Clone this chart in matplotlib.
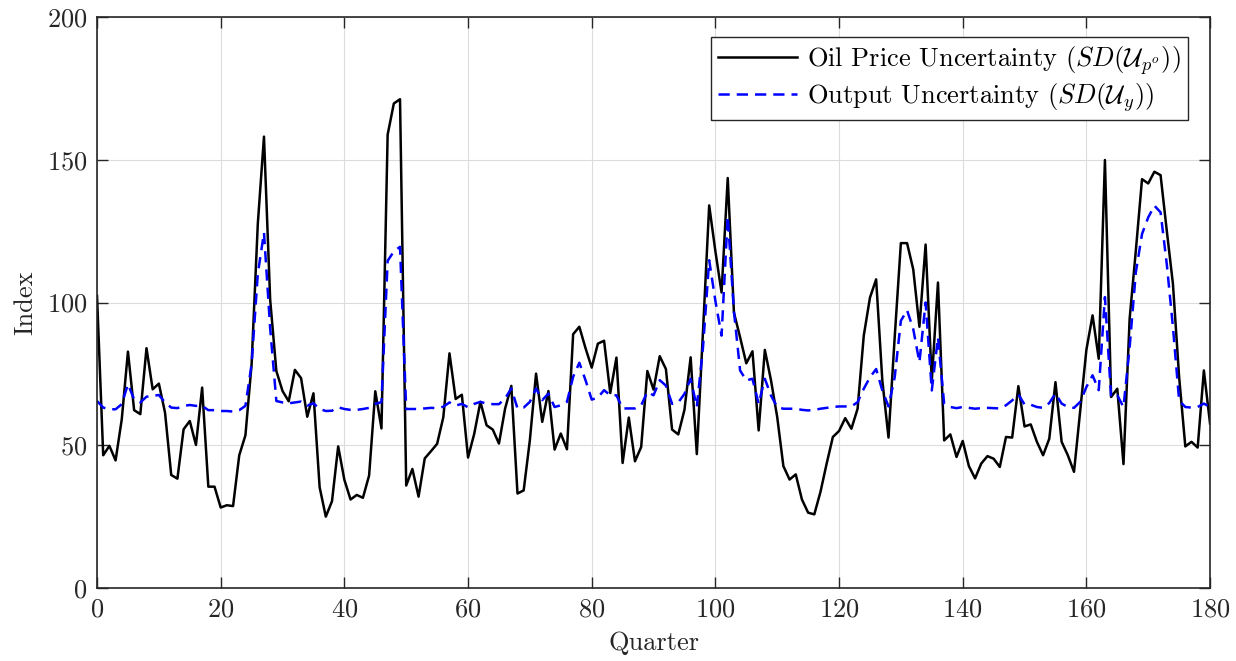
import numpy as np
import matplotlib
matplotlib.use("Agg")
import matplotlib.pyplot as plt

plt.rcParams['font.family'] = ['cmr10', 'DejaVu Serif']
plt.rcParams['mathtext.fontset'] = 'cm'
plt.rcParams['axes.formatter.use_mathtext'] = True

# oil price uncertainty, quarters 0..180
oil = [102.3, 46.5, 49.8, 44.7, 59.1, 82.8, 62.3, 60.9, 84.0, 69.6,
       71.6, 61.4, 39.6, 38.3, 55.6, 58.5, 50.1, 70.2, 35.5, 35.5,
       28.2, 29.0, 28.7, 46.5, 53.5, 78.4, 127.5, 158.1, 101.0, 76.0,
       69.0, 65.4, 76.4, 73.5, 60.0, 68.2, 35.3, 25.0, 30.4, 49.6,
       37.9, 31.0, 32.6, 31.6, 39.4, 68.9, 55.9, 158.8, 169.7, 171.2,
       35.9, 41.7, 32.0, 45.4, 47.9, 50.5, 59.8, 82.2, 66.2, 67.7,
       45.7, 54.0, 65.2, 57.0, 55.5, 50.6, 62.9, 70.8, 33.1, 34.2,
       51.8, 75.1, 58.2, 69.0, 48.5, 54.1, 48.6, 88.9, 91.5, 84.0,
       77.2, 85.6, 86.6, 68.3, 80.7, 43.8, 59.7, 44.4, 49.4, 76.0,
       69.5, 81.2, 76.7, 55.5, 53.8, 62.4, 80.8, 46.9, 90.0, 134.0,
       118.0, 103.5, 143.6, 96.5, 87.8, 78.7, 82.9, 55.2, 83.4, 72.7,
       59.9, 42.7, 38.0, 39.8, 31.0, 26.4, 25.8, 33.7, 43.6, 52.9,
       55.0, 59.5, 55.8, 62.8, 88.4, 101.7, 108.1, 72.7, 52.7, 87.8,
       120.8, 120.8, 111.6, 91.5, 120.3, 72.7, 107.0, 51.7, 53.8, 45.9,
       51.5, 42.7, 38.4, 43.6, 46.2, 45.3, 42.4, 52.9, 52.7, 70.7,
       56.6, 57.3, 51.2, 46.5, 52.3, 72.1, 51.2, 46.5, 40.7, 62.0,
       83.4, 95.5, 80.3, 149.9, 66.9, 69.8, 43.4, 94.4, 118.2, 143.2,
       141.7, 145.8, 144.6, 125.2, 106.5, 73.9, 49.6, 51.2, 49.2, 76.2,
       57.6]

# output uncertainty
output = [65.5, 63.2, 62.6, 62.6, 64.4, 71.4, 66.1, 65.0, 67.0, 67.3,
          67.6, 65.0, 63.2, 63.0, 63.8, 64.1, 63.8, 63.8, 62.3, 62.3,
          62.0, 62.0, 61.8, 62.3, 63.8, 78.4, 110.0, 124.5, 91.0, 65.5,
          65.0, 64.7, 65.0, 65.3, 63.9, 64.7, 62.7, 62.0, 62.1, 63.3,
          62.7, 62.4, 62.4, 62.7, 63.1, 64.5, 65.1, 114.6, 117.9, 119.5,
          62.7, 62.7, 62.7, 62.9, 63.1, 63.0, 63.5, 65.0, 63.9, 64.5,
          63.3, 64.5, 65.2, 64.6, 64.4, 64.4, 66.4, 69.9, 62.9, 63.2,
          65.2, 69.9, 65.8, 68.1, 63.4, 64.0, 65.2, 74.0, 78.9, 72.8,
          66.0, 66.7, 69.3, 67.5, 67.5, 62.9, 62.9, 62.9, 64.0, 68.7,
          67.5, 72.8, 70.9, 64.5, 65.0, 68.0, 73.3, 63.4, 84.3, 114.8,
          100.6, 88.4, 130.2, 97.0, 76.2, 72.7, 73.3, 64.5, 73.3, 67.4,
          63.4, 62.8, 62.8, 62.8, 62.4, 62.2, 62.4, 62.8, 63.1, 63.4,
          63.6, 63.6, 63.6, 65.1, 69.8, 73.8, 76.7, 69.2, 63.6, 73.8,
          93.6, 97.3, 90.7, 79.1, 100.0, 69.2, 87.8, 64.5, 63.4, 63.0,
          63.4, 63.1, 62.8, 63.0, 63.1, 63.0, 62.9, 64.0, 65.7, 67.8,
          64.3, 64.2, 63.4, 63.1, 64.8, 68.1, 64.6, 63.4, 63.1, 65.2,
          70.4, 74.5, 69.3, 101.9, 66.9, 67.5, 63.4, 84.4, 110.6, 124.0,
          129.8, 133.9, 131.6, 113.5, 91.4, 65.7, 63.4, 63.2, 63.4, 64.6,
          63.4]

quarters = np.arange(len(oil))

fig = plt.figure(figsize=(12.36, 6.61), dpi=100)
ax = fig.add_axes([0.0785, 0.1104, 0.9005, 0.8639])

ax.plot(quarters, oil, color='black', lw=1.8,
        label=r'Oil Price Uncertainty ($SD(\mathcal{U}_{p^o})$)')
ax.plot(quarters, output, color='blue', lw=1.8, ls=(0, (4.5, 2.8)),
        label=r'Output Uncertainty ($SD(\mathcal{U}_y)$)')

ax.set_xlim(0, 180)
ax.set_ylim(0, 200)
ax.set_xticks(np.arange(0, 181, 20))
ax.set_yticks(np.arange(0, 201, 50))
ax.grid(True, color='#dcdcdc', lw=0.8)
ax.set_axisbelow(True)
ax.tick_params(direction='in', length=8, width=1.0, labelsize=19, pad=7,
               top=True, right=True, colors='#262626')
for s in ax.spines.values():
    s.set_color('#262626')
    s.set_linewidth(1.2)
ax.set_xlabel('Quarter', fontsize=19, color='#262626', labelpad=7)
ax.set_ylabel('Index', fontsize=19, color='#262626', labelpad=7)

leg = ax.legend(loc='upper right', bbox_to_anchor=(0.98, 0.965), fontsize=19,
                frameon=True, fancybox=False, edgecolor='#262626',
                framealpha=1, borderpad=0.25, labelspacing=0.15,
                handlelength=3.0, handletextpad=0.4, borderaxespad=0)
leg.get_frame().set_linewidth(1.0)

fig.savefig('out.png', dpi=100)
